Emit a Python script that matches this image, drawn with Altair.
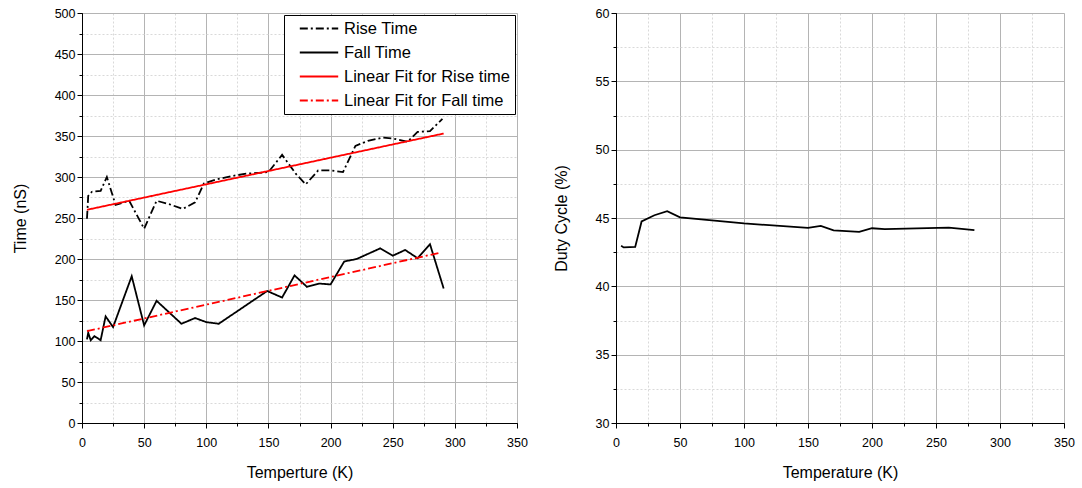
import altair as alt
import pandas as pd

FONT = "Liberation Sans"

# ---- Left panel data ----
rise_temp = [4, 5, 8, 15, 20, 27, 38, 50, 60, 70, 81, 91, 98, 108, 120, 132, 150, 161, 172, 180, 190, 200, 210, 220, 230, 242, 250, 262, 270, 280, 290]
rise_ns = [249, 277, 282, 283, 300, 266, 271, 237, 271, 267, 261, 269, 292, 297, 301, 304, 306, 327, 304, 291, 308, 308, 306, 338, 344, 348, 347, 343, 355, 356, 371]

fall_temp = [4, 5, 7, 10, 15, 19, 25, 40, 50, 60, 70, 80, 91, 100, 110, 149, 161, 171, 181, 191, 200, 211, 221, 240, 250, 260, 270, 280, 291]
fall_ns = [102, 110, 101, 106, 101, 130, 117, 179, 119, 149, 135, 121, 128, 123, 121, 161, 153, 180, 166, 170, 169, 197, 200, 213, 204, 211, 201, 218, 164]

rise_fit_temp = [4, 291]
rise_fit_ns = [260, 353]
fall_fit_temp = [4, 289]
fall_fit_ns = [112, 208]

series_names = ["Rise Time", "Fall Time", "Linear Fit for Rise time", "Linear Fit for Fall time"]
series_colors = ["black", "black", "red", "red"]
series_dashes = [[8, 3, 2, 3], [1, 0], [1, 0], [8, 3, 2, 3]]

# ---- Right panel data ----
duty_temp = [4, 6, 15, 20, 30, 40, 50, 100, 150, 160, 170, 190, 200, 210, 260, 280]
duty_pct = [42.97, 42.85, 42.88, 44.75, 45.2, 45.5, 45.05, 44.6, 44.28, 44.42, 44.1, 43.98, 44.25, 44.18, 44.3, 44.12]

# ---- build tables ----
rows = []
for name, ts, vs in zip(series_names,
                        [rise_temp, fall_temp, rise_fit_temp, fall_fit_temp],
                        [rise_ns, fall_ns, rise_fit_ns, fall_fit_ns]):
    for t, v in zip(ts, vs):
        rows.append({"series": name, "temp": t, "value": v})
left_df = pd.DataFrame(rows)
right_df = pd.DataFrame({"temp": duty_temp, "duty": duty_pct})

MAJOR_GRID = "#b4b4b4"
MINOR_GRID = "#d9d9d9"


def axis_common(**kw):
    base = dict(labelFont=FONT, titleFont=FONT, labelFontSize=12.5, titleFontSize=16,
                titleFontWeight="normal", labelColor="black", titleColor="black",
                tickColor="black", domainColor="black", labelFlush=False)
    base.update(kw)
    return alt.Axis(**base)


def panel(df, yfield, ydom, ymajor, yminor, ytitle, xtitle, line_layer_fn, width):
    xscale = alt.Scale(domain=[0, 350], nice=False, zero=False)
    yscale = alt.Scale(domain=ydom, nice=False, zero=False)
    minor = alt.Chart(df).mark_point(opacity=0, size=1).encode(
        x=alt.X("temp:Q", scale=xscale,
                axis=axis_common(values=list(range(0, 351, 25)), labels=False, title=None,
                                 tickSize=3, grid=True, gridDash=[2, 2], gridColor=MINOR_GRID,
                                 domain=False, orient="bottom")),
        y=alt.Y(f"{yfield}:Q", scale=yscale,
                axis=axis_common(values=yminor, labels=False, title=None,
                                 tickSize=3, grid=True, gridDash=[2, 2], gridColor=MINOR_GRID,
                                 domain=False, orient="left")),
    )
    x_major = alt.X("temp:Q", scale=xscale,
                    axis=axis_common(values=list(range(0, 351, 50)), title=xtitle, tickSize=5,
                                     grid=True, gridColor=MAJOR_GRID, orient="bottom",
                                     labelPadding=8, titlePadding=16))
    y_major = alt.Y(f"{yfield}:Q", scale=yscale,
                    axis=axis_common(values=ymajor, title=ytitle, tickSize=5,
                                     grid=True, gridColor=MAJOR_GRID, orient="left",
                                     labelPadding=2, titlePadding=26))
    lines = line_layer_fn(x_major, y_major)
    return alt.layer(minor, lines).resolve_axis(x="independent", y="independent").properties(
        width=width, height=410)


def left_lines(x, y):
    return alt.Chart(left_df).mark_line(strokeWidth=1.8).encode(
        x=x, y=y,
        color=alt.Color("series:N", title=None,
                        scale=alt.Scale(domain=series_names, range=series_colors),
                        legend=alt.Legend(orient="top-right", offset=2)),
        strokeDash=alt.StrokeDash("series:N", title=None,
                                  scale=alt.Scale(domain=series_names, range=series_dashes),
                                  legend=alt.Legend(orient="top-right", offset=2)),
    )


def right_lines(x, y):
    return alt.Chart(right_df).mark_line(strokeWidth=1.8, color="black").encode(x=x, y=y)


left = panel(left_df, "value", [0, 500], list(range(0, 501, 50)), list(range(0, 501, 25)),
             "Time (nS)", "Temperture (K)", left_lines, 435)
right = panel(right_df, "duty", [30, 60], [30, 35, 40, 45, 50, 55, 60],
              [30 + 2.5 * i for i in range(13)],
              "Duty Cycle (%)", "Temperature (K)", right_lines, 448)

chart = alt.hconcat(left, right, spacing=99, bounds="flush").resolve_legend(
    color="independent", strokeDash="independent"
).properties(
    padding={"left": 12, "top": 7, "right": 5, "bottom": 5}
).configure_view(
    stroke=None
).configure_legend(
    strokeColor="black", fillColor="white", padding=4.5, symbolOffset=21.5,
    symbolType="M-2.4,0H2.4", symbolSize=256, symbolStrokeWidth=1.8,
    labelFont=FONT, labelFontSize=16.5, labelColor="black", labelOffset=16,
    rowPadding=6, cornerRadius=0, labelLimit=400,
)

chart.save("out.html", embed_options={"renderer": "svg", "actions": False})
